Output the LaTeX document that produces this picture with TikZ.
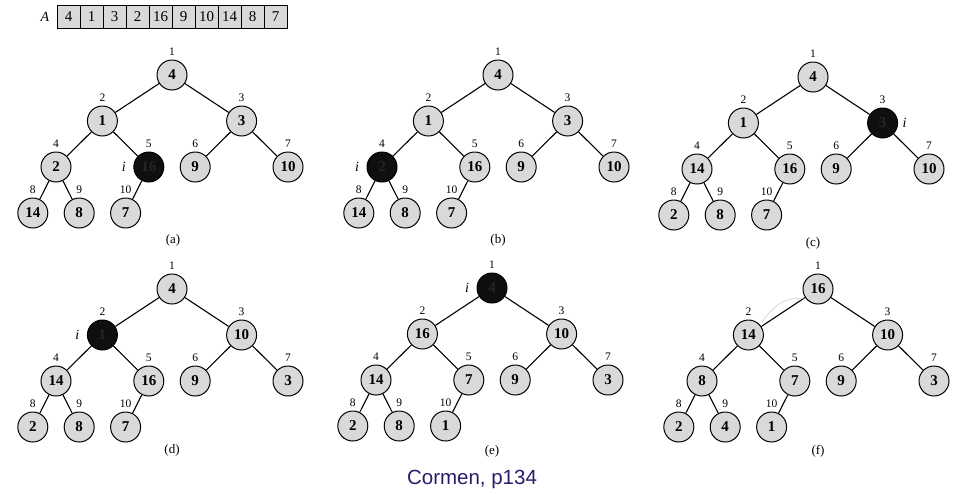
\documentclass[tikz,border=0pt]{standalone}
\usepackage{fontspec}
\setmainfont{Liberation Serif}
\newfontfamily\capfont{Liberation Sans}

\definecolor{nodefill}{gray}{0.85}
\definecolor{hotfill}{gray}{0.06}
\definecolor{captionblue}{RGB}{38,30,108}

\tikzset{
  key/.style={circle, draw=black, line width=1pt, fill=nodefill,
    minimum size=30pt, inner sep=0pt, font=\fontsize{15}{18}\selectfont\bfseries},
  hot/.style={key, fill=hotfill, text=black!85},
  idx/.style={inner sep=0pt, font=\fontsize{11.5}{13}\selectfont},
  edge/.style={line width=1.1pt},
  ivar/.style={inner sep=0pt, font=\fontsize{14}{16}\selectfont\itshape},
  panel/.style={inner sep=0pt, font=\fontsize{13}{15}\selectfont},
  cell/.style={draw=black, line width=0.8pt, fill=nodefill,
    minimum width=23pt, minimum height=23pt, inner sep=0pt,
    font=\fontsize{15}{18}\selectfont},
}

% #1 name prefix, #2 root position, #3 index of the current node i (0: none),
% #4 horizontal offset of the label i, #5 keys A[1..10], #6 caption, #7 caption position
\newcommand\heapfig[7]{%
  \begin{scope}[shift={#2}]
    \foreach \k/\dx/\dy in {1/0/0,2/-1.5/1,3/1.5/1,4/-2.5/2,5/-0.5/2,
                            6/0.5/2,7/2.5/2,8/-3/3,9/-2/3,10/-1/3}
      \coordinate (#1p\k) at (\dx*46.4,\dy*46);
  \end{scope}
  \foreach \v [count=\k] in {#5} {%
    \ifnum\k=#3\relax\def\nodestyle{hot}\else\def\nodestyle{key}\fi
    \node[\nodestyle] (#1\k) at (#1p\k) {\v};
    \node[idx] (#1n\k) at ([yshift=23pt]#1p\k) {\k};
  }
  \foreach \c/\p in {2/1,3/1,4/2,5/2,6/3,7/3,8/4,9/4,10/5}
    \draw[edge] (#1\p) -- (#1\c);
  \ifnum#3>0\relax
    \node[ivar] (#1i) at ([xshift=#4pt]#1p#3) {i};
  \fi
  \node[panel] (#1cap) at #7 {#6};
}

\begin{document}
\begin{tikzpicture}[x=1pt,y=-1pt]
  \useasboundingbox (0,0) rectangle (957,493);

  % the array A
  \node[inner sep=0pt, font=\fontsize{14}{16}\selectfont\itshape] (arrA) at (45,17) {A};
  \foreach \v [count=\k] in {4,1,3,2,16,9,10,14,8,7}
    \node[cell] (cell\k) at (45.5+23*\k,16.7) {\v};

  % the six steps of BUILD-MAX-HEAP
  \heapfig{a}{(172,75)}{5}{-25}{4,1,3,2,16,9,10,14,8,7}{(a)}{(173,240)}
  \heapfig{b}{(498,75)}{4}{-25}{4,1,3,2,16,9,10,14,8,7}{(b)}{(498,240)}
  \heapfig{c}{(813,77)}{3}{22}{4,1,3,14,16,9,10,2,8,7}{(c)}{(813,243)}
  \heapfig{d}{(172,289)}{2}{-25}{4,1,10,14,16,9,3,2,8,7}{(d)}{(172,450)}
  \heapfig{e}{(492,288)}{1}{-25}{4,16,10,14,7,9,3,2,8,1}{(e)}{(492,451)}
  \heapfig{f}{(818,289)}{0}{0}{16,14,10,8,7,9,3,2,4,1}{(f)}{(818,451)}

  % faint pencil stroke near the root of the last heap
  \draw[gray!45, line width=0.5pt] (762,322) .. controls (776,302) and (790,296) .. (805,299);

  % source note
  \node[anchor=base, inner sep=0pt, text=captionblue,
        font=\capfont\fontsize{20.5}{24}\selectfont] (src) at (472,484) {Cormen, p134};
\end{tikzpicture}
\end{document}
